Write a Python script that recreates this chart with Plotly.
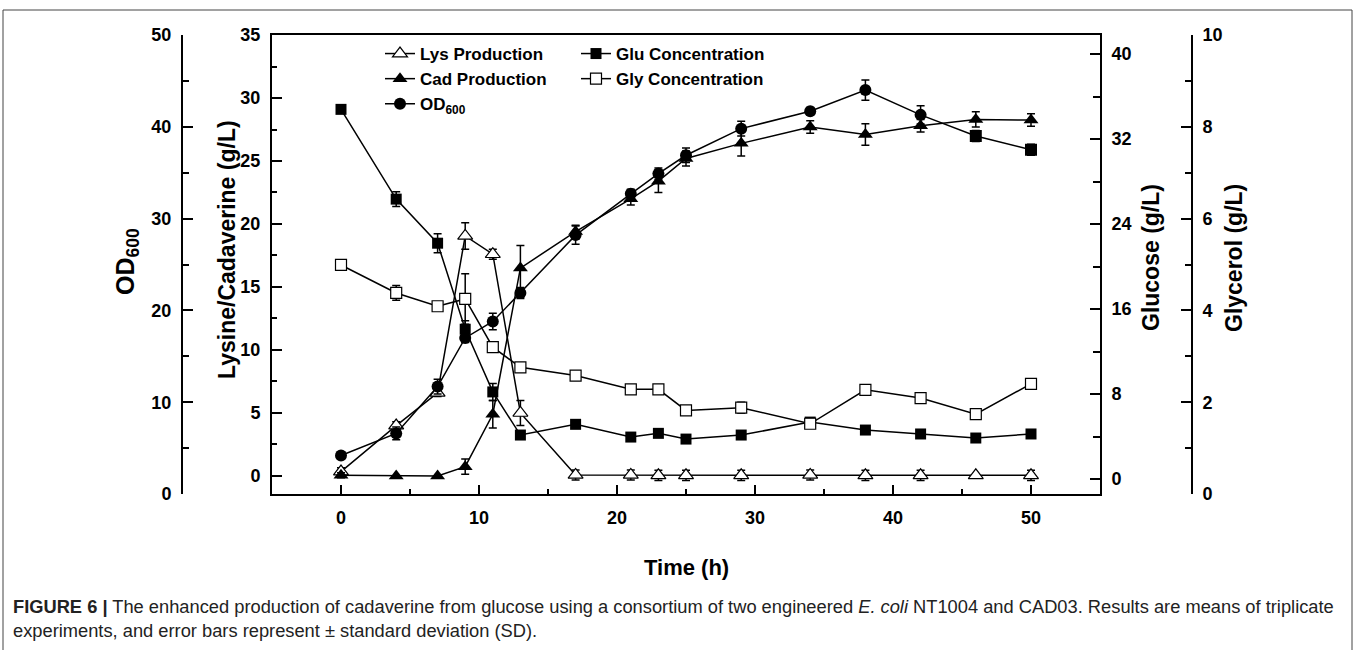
import plotly.graph_objects as go

# ---------------- data ----------------
time = [0, 4, 7, 9, 11, 13, 17, 21, 23, 25, 29, 34, 38, 42, 46, 50]

lys = [0.35, 4.0, 6.6, 19.05, 17.6, 5.0, 0.08, 0.08, 0.05, 0.05, 0.05, 0.08, 0.05, 0.05, 0.05, 0.05]
lys_sd = [0.3, 0.3, 0.3, 1.05, 0.4, 1.0, 0.4, 0.4, 0.4, 0.4, 0.4, 0.4, 0.4, 0.4, 0.0, 0.4]

cad = [0.05, 0.0, 0.0, 0.74, 4.9, 16.5, 19.4, 22.0, 23.4, 25.2, 26.4, 27.7, 27.1, 27.8, 28.3, 28.25]
cad_sd = [0.2, 0.0, 0.0, 0.6, 1.1, 1.8, 0.5, 0.5, 0.9, 0.6, 1.0, 0.5, 0.85, 0.5, 0.6, 0.5]

od = [4.2, 6.6, 11.7, 17.0, 18.8, 21.9, 28.2, 32.7, 34.9, 36.9, 39.8, 41.7, 44.0, 41.3, 39.0, 37.5]
od_sd = [0.3, 0.7, 0.8, 0.5, 0.9, 0.6, 1.0, 0.5, 0.6, 0.8, 0.8, 0.4, 1.1, 1.0, 0.6, 0.6]

glu = [34.8, 26.35, 22.2, 14.1, 8.2, 4.14, 5.15, 3.95, 4.3, 3.76, 4.14, 5.36, 4.61, 4.24, 3.86, 4.24]
glu_sd = [0.3, 0.7, 0.9, 0.8, 0.8, 0.3, 0.3, 0.3, 0.3, 0.3, 0.3, 0.4, 0.3, 0.3, 0.3, 0.3]

gly = [4.99, 4.38, 4.09, 4.25, 3.2, 2.76, 2.58, 2.28, 2.28, 1.82, 1.88, 1.53, 2.27, 2.09, 1.74, 2.4]
gly_sd = [0.05, 0.16, 0.06, 0.55, 0.08, 0.07, 0.05, 0.06, 0.06, 0.06, 0.12, 0.08, 0.07, 0.05, 0.07, 0.05]

x_ticks = [0, 10, 20, 30, 40, 50]

# ---------------- layout geometry ----------------
W, H = 1358, 650
ML, MR, MT, MB = 182, 166, 35, 156
PW, PH = W - ML - MR, H - MT - MB


def px_x(p):
    return (p - ML) / PW


def px_y(p):
    return (H - MB - p) / PH


FONT = "Liberation Sans, Arial, sans-serif"
BLACK = "#000000"


def err(arr):
    return dict(type="data", array=arr, visible=True, color=BLACK, thickness=1.5, width=4)


fig = go.Figure()

fig.add_trace(go.Scatter(
    x=time, y=lys, yaxis="y", name="Lys Production", mode="lines+markers",
    line=dict(color=BLACK, width=1.5),
    marker=dict(symbol="triangle-up", size=13, color="white", line=dict(color=BLACK, width=1.2)),
    error_y=err(lys_sd), legend="legend", legendrank=1,
))
fig.add_trace(go.Scatter(
    x=time, y=cad, yaxis="y", name="Cad Production", mode="lines+markers",
    line=dict(color=BLACK, width=1.5),
    marker=dict(symbol="triangle-up", size=13, color=BLACK),
    error_y=err(cad_sd), legend="legend", legendrank=2,
))
fig.add_trace(go.Scatter(
    x=time, y=od, yaxis="y2", name="OD<sub>600</sub>", mode="lines+markers",
    line=dict(color=BLACK, width=1.5),
    marker=dict(symbol=["circle"] * 14 + ["square"] * 2, size=12, color=BLACK),
    error_y=err(od_sd), legend="legend", legendrank=3,
))
fig.add_trace(go.Scatter(
    x=time, y=glu, yaxis="y3", name="Glu Concentration", mode="lines+markers",
    line=dict(color=BLACK, width=1.5),
    marker=dict(symbol="square", size=11, color=BLACK),
    error_y=err(glu_sd), legend="legend2", legendrank=1,
))
fig.add_trace(go.Scatter(
    x=time, y=gly, yaxis="y4", name="Gly Concentration", mode="lines+markers",
    line=dict(color=BLACK, width=1.5),
    marker=dict(symbol="square", size=11, color="white", line=dict(color=BLACK, width=1.2)),
    error_y=err(gly_sd), legend="legend2", legendrank=2,
))

tickfont = dict(family=FONT, size=18, color=BLACK, weight="bold")

common_y = dict(
    showgrid=False, zeroline=False, showline=True, linecolor=BLACK, linewidth=2,
    ticks="inside", ticklen=10, tickwidth=2, tickcolor=BLACK,
    tickfont=tickfont, ticklabelstandoff=6,
)

legend_font = dict(family=FONT, size=17, color=BLACK, weight="bold")

fig.update_layout(
    width=W, height=H,
    margin=dict(l=ML, r=MR, t=MT, b=MB),
    paper_bgcolor="white", plot_bgcolor="white",
    font=dict(family=FONT, color=BLACK),
    xaxis=dict(
        domain=[px_x(272), px_x(1100)], range=[-5, 55],
        tickvals=x_ticks, showgrid=False, zeroline=False,
        showline=True, linecolor=BLACK, linewidth=2, mirror=True,
        ticks="inside", ticklen=9, tickwidth=2, tickcolor=BLACK,
        minor=dict(dtick=5, tick0=0, ticks="inside", ticklen=5, tickwidth=2, tickcolor=BLACK, showgrid=False),
        tickfont=tickfont, ticklabelstandoff=6,
    ),
    yaxis=dict(
        range=[-1.43, 35.0], dtick=5, tick0=0, side="left", anchor="x",
        minor=dict(dtick=2.5, tick0=0, ticks="inside", ticklen=5, tickwidth=2, tickcolor=BLACK, showgrid=False),
        **common_y,
    ),
    yaxis2=dict(
        range=[0, 50], dtick=10, tick0=0, side="left", anchor="free", position=0,
        overlaying="y",
        minor=dict(dtick=5, tick0=0, ticks="inside", ticklen=6, tickwidth=2, tickcolor=BLACK, showgrid=False),
        **common_y,
    ),
    yaxis3=dict(
        range=[-1.41, 41.8], dtick=8, tick0=0, side="right", anchor="x",
        overlaying="y",
        minor=dict(dtick=4, tick0=0, ticks="inside", ticklen=7, tickwidth=2, tickcolor=BLACK, showgrid=False),
        **common_y,
    ),
    yaxis4=dict(
        range=[0, 10], dtick=2, tick0=0, side="right", anchor="free", position=1,
        overlaying="y",
        minor=dict(dtick=1, tick0=0, ticks="inside", ticklen=6, tickwidth=2, tickcolor=BLACK, showgrid=False),
        **common_y,
    ),
    legend=dict(
        x=px_x(380), y=px_y(36), xanchor="left", yanchor="top",
        bgcolor="rgba(0,0,0,0)", borderwidth=0, tracegroupgap=0,
        font=legend_font, itemwidth=30,
    ),
    legend2=dict(
        x=px_x(576), y=px_y(36), xanchor="left", yanchor="top",
        bgcolor="rgba(0,0,0,0)", borderwidth=0, tracegroupgap=0,
        font=legend_font, itemwidth=30,
    ),
    showlegend=True,
)

annots = [
    dict(text="OD<sub>600</sub>", x=px_x(127), y=px_y(262), textangle=-90,
         font=dict(family=FONT, size=25, color=BLACK, weight="bold")),
    dict(text="Lysine/Cadaverine (g/L)", x=px_x(227), y=px_y(250), textangle=-90,
         font=dict(family=FONT, size=23, color=BLACK, weight="bold")),
    dict(text="Glucose (g/L)", x=px_x(1151), y=px_y(258), textangle=-90,
         font=dict(family=FONT, size=23, color=BLACK, weight="bold")),
    dict(text="Glycerol (g/L)", x=px_x(1234), y=px_y(258), textangle=-90,
         font=dict(family=FONT, size=23, color=BLACK, weight="bold")),
    dict(text="Time (h)", x=px_x(686), y=px_y(567),
         font=dict(family=FONT, size=22, color=BLACK, weight="bold")),
]
for a in annots:
    fig.add_annotation(xref="paper", yref="paper", showarrow=False,
                       xanchor="center", yanchor="middle", **a)

caption = ("<b>FIGURE 6 |</b> The enhanced production of cadaverine from glucose using a consortium "
           "of two engineered <i>E. coli</i> NT1004 and CAD03. Results are means of triplicate<br>"
           "experiments, and error bars represent \u00b1 standard deviation (SD).")
fig.add_annotation(
    xref="paper", yref="paper", showarrow=False, text=caption, align="left",
    x=px_x(11), y=px_y(594), xanchor="left", yanchor="top",
    font=dict(family=FONT, size=18.3, color="#222222"),
)

fig.add_shape(type="rect", xref="paper", yref="paper",
              x0=px_x(3), x1=px_x(1352), y0=px_y(700), y1=px_y(10),
              line=dict(color="#444444", width=1), fillcolor="rgba(0,0,0,0)", layer="below")

fig.write_html("out.html")
